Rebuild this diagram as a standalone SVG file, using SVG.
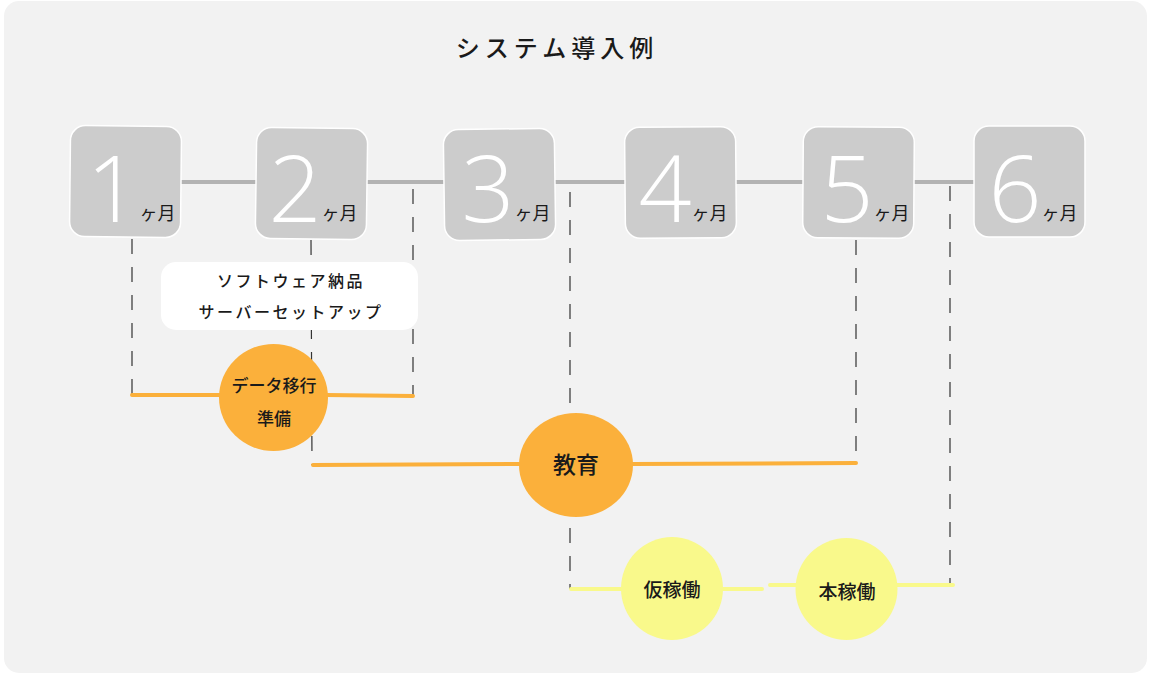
<svg xmlns="http://www.w3.org/2000/svg" width="1150" height="675" viewBox="0 0 1150 675">
<style>
.jp{font-family:"Noto Sans CJK JP","Noto Sans",sans-serif;fill:#1a1a1a}
.md{font-weight:500}
.box{fill:#cccccc;stroke:#ffffff;stroke-width:1.5}
.dig{font-family:"Open Sans","Lato",sans-serif;font-weight:300;font-size:93px;fill:#ffffff}
.unit{font-family:"Noto Sans CJK JP",sans-serif;font-size:18px;fill:#1a1a1a}
.dash{stroke:#333333;stroke-width:1.2;stroke-dasharray:15 13;fill:none}
.orl{stroke:#fbb03b;stroke-width:4;stroke-linecap:round;fill:none}
.yel{stroke:#f9f98b;stroke-width:4;stroke-linecap:round;fill:none}
</style>
<rect x="4" y="1" width="1143" height="672" rx="15" fill="#f2f2f2"/>
<text id="title" class="jp" x="557" y="57" font-size="24" font-weight="500" letter-spacing="5" text-anchor="middle">システム導入例</text>
<g id="connectors">
<line x1="181" y1="182" x2="975" y2="182" stroke="#b3b3b3" stroke-width="4"/>
<line class="dash" x1="132" y1="239" x2="132" y2="395"/>
<line class="dash" x1="311" y1="240" x2="312" y2="465"/>
<line class="dash" x1="413" y1="189" x2="413" y2="396"/>
<line class="dash" x1="570" y1="192" x2="570" y2="589"/>
<line class="dash" x1="856" y1="240" x2="856" y2="463"/>
<line class="dash" x1="950" y1="186" x2="950" y2="584"/>
<path class="orl" d="M132 395 L220 395 M326 395 L413 396"/>
<path class="orl" d="M313 465 L520 464 M632 464 L856 463"/>
<path class="yel" d="M571 589 L623 589 M721 589 L762 589"/>
<path class="yel" d="M770 585 L798 585 M895 585 L953 585"/>
</g>
<g id="m1"><rect class="box" x="70" y="126" width="111" height="111" rx="15" transform="rotate(0.6 126 182)"/><text x="131" y="222" text-anchor="middle"><tspan class="dig">1</tspan><tspan class="unit" dy="-2">ヶ月</tspan></text></g>
<g id="m2"><rect class="box" x="256" y="128" width="111" height="111" rx="15" transform="rotate(0.8 311 183)"/><text x="313" y="222" text-anchor="middle"><tspan class="dig">2</tspan><tspan class="unit" dy="-2">ヶ月</tspan></text></g>
<g id="m3"><rect class="box" x="444" y="129" width="111" height="111" rx="15" transform="rotate(-0.8 500 185)"/><text x="506" y="222" text-anchor="middle"><tspan class="dig">3</tspan><tspan class="unit" dy="-2">ヶ月</tspan></text></g>
<g id="m4"><rect class="box" x="625" y="127" width="111" height="111" rx="15" transform="rotate(-0.5 680 182)"/><text x="683" y="222" text-anchor="middle"><tspan class="dig">4</tspan><tspan class="unit" dy="-2">ヶ月</tspan></text></g>
<g id="m5"><rect class="box" x="803" y="127" width="111" height="111" rx="15" transform="rotate(0.4 859 182)"/><text x="865" y="222" text-anchor="middle"><tspan class="dig">5</tspan><tspan class="unit" dy="-2">ヶ月</tspan></text></g>
<g id="m6"><rect class="box" x="974" y="126" width="111" height="111" rx="15"/><text x="1033" y="222" text-anchor="middle"><tspan class="dig">6</tspan><tspan class="unit" dy="-2">ヶ月</tspan></text></g>
<g id="delivery"><rect x="161" y="262" width="257" height="68" rx="15" fill="#ffffff"/>
<text class="jp md" x="291" y="287" font-size="16" letter-spacing="2.5" text-anchor="middle">ソフトウェア納品</text>
<text class="jp md" x="291" y="318" font-size="16" letter-spacing="2.5" text-anchor="middle">サーバーセットアップ</text></g>
<g id="migration"><ellipse cx="273.5" cy="397.5" rx="54.5" ry="53.5" fill="#fbb03b"/>
<text class="jp md" x="274" y="392" font-size="17" text-anchor="middle">データ移行</text>
<text class="jp md" x="274" y="425" font-size="17" text-anchor="middle">準備</text></g>
<g id="education"><ellipse cx="576" cy="465" rx="57" ry="52" fill="#fbb03b"/>
<text class="jp md" x="576" y="473" font-size="23" text-anchor="middle">教育</text></g>
<g id="trial"><ellipse cx="672" cy="588.5" rx="51" ry="51.5" fill="#f9f98b"/>
<text class="jp md" x="672" y="597" font-size="19" text-anchor="middle">仮稼働</text></g>
<g id="live"><ellipse cx="846.5" cy="589" rx="51" ry="51" fill="#f9f98b"/>
<text class="jp md" x="847" y="599" font-size="19" text-anchor="middle">本稼働</text></g>
</svg>
